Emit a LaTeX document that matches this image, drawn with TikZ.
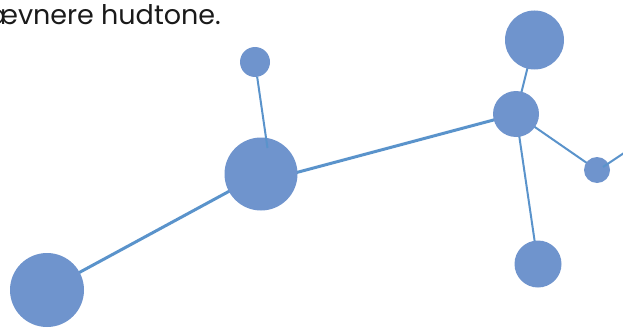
\documentclass[tikz,border=0pt]{standalone}
\usepackage{fontspec}
\setmainfont{Poppins}
\usetikzlibrary{positioning}
\definecolor{atomblue}{HTML}{6F94CD}
\definecolor{bondblue}{HTML}{5A93CB}
\definecolor{textgrey}{HTML}{1A1A1A}

\begin{document}
\begin{tikzpicture}[x=1pt, y=-1pt,
    atom/.style={circle, fill=atomblue, draw=none, inner sep=0pt, minimum size=#1},
    bond/.style={draw=bondblue, line width=3pt},
    thinbond/.style={draw=bondblue, line width=2pt}]
    \useasboundingbox (0,0) rectangle (623,329);
    \clip (0,0) rectangle (623,329);
    % text line cut at the left edge
    \node[anchor=base east, inner sep=0pt, text=textgrey, font=\fontsize{27}{32}\selectfont] (caption) at (221,25) {ævnere hudtone.};
    % centres
    \coordinate (cBig) at (47,290);
    \coordinate (cHub) at (261,174);
    \coordinate (cHubLow) at (261,182);
    \coordinate (cTop) at (255,62);
    \coordinate (cMid) at (516,114);
    \coordinate (cUp) at (534.5,40);
    \coordinate (cSmall) at (597,170);
    \coordinate (cDown) at (538,264);
    \coordinate (cHubIn) at (267.5,148);
    \coordinate (cSmallIn) at (603,167);
    \coordinate (cEdge) at (630,149);
    % bonds under the atoms
    \draw[bond] (cBig) -- (cHub);
    \draw[bond] (cHubLow) -- (cMid);
    \draw[thinbond] (cMid) -- (cUp);
    \draw[thinbond] (cMid) -- (cSmall);
    \draw[thinbond] (cMid) -- (cDown);
    % atoms
    \node[atom=74pt] (big) at (cBig) {};
    \node[atom=73pt] (hub) at (cHub) {};
    \node[atom=30pt] (top) at (cTop) {};
    \node[atom=46pt] (mid) at (cMid) {};
    \node[atom=59pt] (up) at (cUp) {};
    \node[atom=26pt] (small) at (cSmall) {};
    \node[atom=47pt] (down) at (cDown) {};
    % bonds over the atoms
    \draw[thinbond] (top) -- (cHubIn);
    \draw[thinbond] (cSmallIn) -- (cEdge);
\end{tikzpicture}
\end{document}
